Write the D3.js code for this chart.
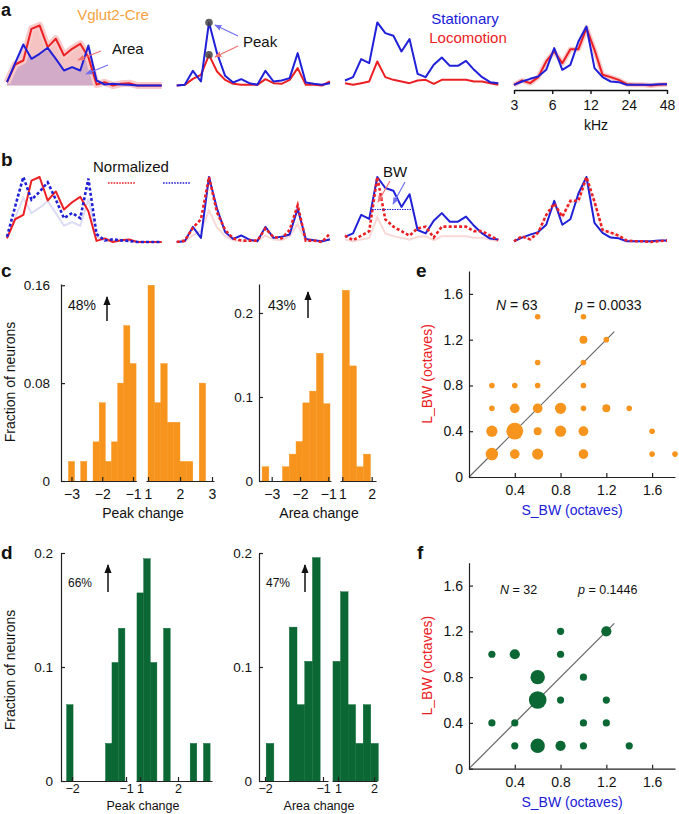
<!DOCTYPE html>
<meta charset="utf-8">
<script src="https://d3js.org/d3.v7.min.js"></script>
<style>
  body { margin: 0; background: #fff; }
  text { font-family: "Liberation Sans", Arial, Helvetica, sans-serif; }
</style>
<div id="my_dataviz"></div>
<script>

// ---------- data ----------
// sound frequencies (kHz), 20 log-spaced tones
const freqs = [3.0, 3.47, 4.02, 4.65, 5.38, 6.22, 7.2, 8.33, 9.64, 11.15,
               12.9, 14.93, 17.28, 19.99, 23.13, 26.76, 30.97, 35.83, 41.46, 48.0];

// example tuning curves (a.u.), stationary vs locomotion
const stat1 = [1.0, 6.7, 12.3, 8.0, 9.5, 11.3, 8.0, 4.5, 5.5, 4.5, 12.0, 1.5, 0.3, 0.5, 0.3, 0.2, 0, 0, 0, 0];
const loco1 = [1.0, 6.3, 7.5, 17.0, 18.0, 11.5, 14.0, 9.0, 11.0, 12.5, 8.5, 0.3, 1.0, 0, 0.5, 0.7, 0, 0, 0, 0];
const stat2 = [0, 0.2, 4.4, 1.2, 18.9, 9.7, 2.9, 0.9, 1.9, 0.7, 0.2, 4.4, 1.2, 1.5, 2.2, 9.7, 0.9, 0.5, 0.2, 0.7];
const loco2 = [0, 0.2, 2.0, 3.2, 9.2, 4.2, 1.7, 0.5, 0.2, 0.2, 0.2, 1.9, 0.7, 0.5, 1.7, 5.2, 0.2, 0.2, 0, 1.2];
const stat3 = [1.5, 2.5, 7.9, 6.7, 18.9, 15.7, 14.9, 10.2, 13.9, 3.5, 2.5, 6.2, 8.4, 5.9, 5.9, 7.4, 4.7, 2.5, 1.0, 0.7];
const loco3 = [0.7, 0.2, 0.7, 1.2, 7.2, 2.5, 1.7, 1.2, 0.7, 1.5, 1.7, 0.5, 1.7, 1.7, 1.7, 1.7, 1.2, 1.2, 0.7, 0.2];
const stat4 = [0.2, 1.2, 2.0, 2.7, 4.7, 11.2, 4.7, 6.2, 13.2, 17.7, 5.2, 2.5, 1.2, 1.0, 0.2, 0.2, 0.2, 0.2, 0.4, 0.4];
const loco4 = [0.2, 1.5, 0.7, 2.5, 7.2, 10.2, 6.7, 10.9, 10.9, 17.2, 10.7, 3.2, 2.5, 1.7, 0.4, 0.2, 0.2, 0, 0.2, 0.4];
const freqTicks = [3, 6, 12, 24, 48];

// histograms: fraction of neurons per bin, negative side and positive side of the broken axis
const cPeakNeg = [0.016, 0, 0.016, 0, 0.032, 0.064, 0.016, 0.032, 0.080, 0.127, 0.096]; // bins of 0.2 from -3.1
const cPeakPos = [0.160, 0.064, 0.096, 0.048, 0.048, 0.016, 0.016, 0, 0.080];          // bins of 0.2 from 1.0
const cAreaNeg = [0.017, 0, 0, 0.017, 0.032, 0.047, 0.093, 0.107, 0.152, 0.092];        // bins of 0.24 from -3.34
const cAreaPos = [0.227, 0.137, 0.017, 0.032];                                          // bins of 0.24 from 1.0
const dPeakNeg = [0.067, 0, 0, 0, 0, 0, 0.033, 0.104, 0.134];                           // bins of 0.12 from -2.1
const dPeakPos = [0.165, 0.195, 0.104, 0, 0.134, 0, 0, 0, 0.033, 0, 0.033];             // bins of 0.175 from 0.92
const dAreaNeg = [0.033, 0, 0, 0.135, 0.067, 0.105, 0.196, 0];                          // bins of 0.133 from -1.98
const dAreaPos = [0.105, 0.166, 0.067, 0.033, 0.067, 0.033];                            // bins of 0.21 from 0.86

// bandwidth scatter: S_BW, L_BW (octaves), number of neurons
const eS = [0.6, 1.0, 1.0, 1.2, 0.6, 1.0, 0.2, 0.4, 0.6, 1.0, 0.2, 0.4, 0.6, 0.8, 1.0, 1.2, 1.4,
            0.2, 0.4, 0.6, 0.8, 1.0, 1.6, 0.2, 0.4, 0.6, 1.0, 1.6, 1.8];
const eL = [1.4, 1.4, 1.2, 1.2, 1.0, 1.0, 0.8, 0.8, 0.8, 0.8, 0.6, 0.6, 0.6, 0.6, 0.6, 0.6, 0.6,
            0.4, 0.4, 0.4, 0.4, 0.4, 0.4, 0.2, 0.2, 0.2, 0.2, 0.2, 0.2];
const eN = [1, 1, 2, 1, 1, 1, 1, 1, 1, 1, 1, 3, 3, 4, 1, 2, 1,
            4, 9, 2, 4, 3, 1, 5, 3, 4, 3, 1, 1];
const fS = [0.8, 1.2, 0.2, 0.4, 0.8, 0.6, 1.0, 0.6, 0.8, 1.2, 0.2, 0.4, 1.0, 1.2, 0.4, 0.6, 0.8, 1.0, 1.4];
const fL = [1.2, 1.2, 1.0, 1.0, 1.0, 0.8, 0.8, 0.6, 0.6, 0.6, 0.4, 0.4, 0.4, 0.4, 0.2, 0.2, 0.2, 0.2, 0.2];
const fN = [1, 2, 1, 2, 1, 4, 1, 6, 1, 1, 1, 1, 1, 1, 1, 4, 2, 1, 1];
const bwTicks = [0.4, 0.8, 1.2, 1.6];

// ---------- drawing ----------
const RED = "#ec2024", BLUE = "#2020d8", ORANGE = "#f7941d", GREEN = "#0b6835";

const svg = d3.select("#my_dataviz")
  .append("svg")
    .attr("width", 679)
    .attr("height", 814);

// arrowheads
const defs = svg.append("defs");
[["arRed", "#f07070"], ["arBlue", "#7070ee"], ["arBlack", "#111"]].forEach(([id, c]) => {
  defs.append("marker").attr("id", id).attr("viewBox", "0 0 10 10")
    .attr("refX", 9).attr("refY", 5).attr("markerWidth", 6).attr("markerHeight", 6)
    .attr("orient", "auto-start-reverse")
    .append("path").attr("d", "M0,1 L10,5 L0,9 z").attr("fill", c);
});

function label(x, y, t, size, opts = {}) {
  const el = svg.append("text").attr("x", x).attr("y", y).text(t)
    .style("font-size", size + "px")
    .attr("fill", opts.fill || "#111")
    .attr("text-anchor", opts.anchor || "start");
  if (opts.bold) el.style("font-weight", "bold");
  if (opts.rotate) el.attr("transform", `rotate(-90,${x},${y})`);
  return el;
}
function arrow(x1, y1, x2, y2, color, marker, w) {
  svg.append("line").attr("x1", x1).attr("y1", y1).attr("x2", x2).attr("y2", y2)
    .attr("stroke", color).attr("stroke-width", w || 1.2).attr("marker-end", `url(#${marker})`);
}

// panel letters
label(1, 16, "a", 18, {bold: true});
label(1, 166, "b", 19, {bold: true});
label(1, 277, "c", 19, {bold: true});
label(1, 559, "d", 19, {bold: true});
label(416, 277, "e", 19, {bold: true});
label(417, 559, "f", 19, {bold: true});

// ----- panel a & b: tuning curves -----
const plotX = [[7, 161.7], [176.7, 330], [345, 498.3], [514, 667]];
const curves = [[stat1, loco1], [stat2, loco2], [stat3, loco3], [stat4, loco4]];
const ya = d3.scaleLinear().domain([0, 20]).range([85.5, 18.8]);

curves.forEach(([s, l], i) => {
  const x = d3.scaleLog().base(2).domain([3, 48]).range(plotX[i]);
  const line = d3.line().x((d, j) => x(freqs[j])).y(d => ya(d));
  const g = svg.append("g");
  if (i === 0) {
    const area = d3.area().x((d, j) => x(freqs[j])).y0(ya(0)).y1(d => ya(d));
    g.append("path").datum(l).attr("d", area).attr("fill", "#f6c3c3");
    g.append("path").datum(s).attr("d", area).attr("fill", "#9b86cc").attr("opacity", 0.4);
  }
  if (i === 0 || i === 3) {
    g.append("path").datum(l).attr("d", line).attr("fill", "none")
      .attr("stroke", "#f8caca").attr("stroke-width", i === 0 ? 7 : 5).attr("stroke-linejoin", "round");
  }
  g.append("path").datum(l).attr("d", line).attr("fill", "none")
    .attr("stroke", RED).attr("stroke-width", 2).attr("stroke-linejoin", "round");
  g.append("path").datum(s).attr("d", line).attr("fill", "none")
    .attr("stroke", BLUE).attr("stroke-width", 2).attr("stroke-linejoin", "round");

  if (i === 1) {
    const k = s.indexOf(d3.max(s));
    g.selectAll("circle.pk").data([s[k], l[k]]).join("circle")
      .attr("cx", x(freqs[k])).attr("cy", d => ya(d)).attr("r", 3.8)
      .attr("fill", "#444").attr("opacity", 0.85);
  }
  if (i === 3) {
    g.append("g").attr("transform", "translate(0,90)")
      .call(d3.axisBottom(x).tickValues(freqTicks).tickSizeInner(4).tickSizeOuter(0)
        .tickPadding(6).tickFormat(d3.format("d")))
      .call(a => a.selectAll("text").style("font-size", "14px").attr("fill", "#111"))
      .call(a => a.selectAll("path,line").attr("stroke", "#111").attr("stroke-width", 1.4));
    label(596, 130, "kHz", 14, {anchor: "middle"});
  }

  // panel b: normalized curves
  const ms = d3.max(s), ml = d3.max(l);
  const yb = d3.scaleLinear().domain([0, Math.max(ms, ml)]).range([242, 177]);
  const lineB = d3.line().x((d, j) => x(freqs[j])).y(d => yb(d));
  const normS = ms < ml;
  const small = normS ? s : l, big = normS ? l : s;
  const scaled = small.map(v => v * d3.max(big) / d3.max(small));
  const gb = svg.append("g");
  gb.append("path").datum(small).attr("d", lineB).attr("fill", "none")
    .attr("stroke", normS ? "#dcdcf6" : "#f9d8d8").attr("stroke-width", 2);
  gb.append("path").datum(big).attr("d", lineB).attr("fill", "none")
    .attr("stroke", normS ? RED : BLUE).attr("stroke-width", 2).attr("stroke-linejoin", "round");
  gb.append("path").datum(scaled).attr("d", lineB).attr("fill", "none")
    .attr("stroke", normS ? BLUE : RED).attr("stroke-width", 2.6)
    .attr("stroke-dasharray", "3,2.2");
  if (i === 2) {
    gb.append("line").attr("x1", 372).attr("x2", 413).attr("y1", yb(d3.max(s) / 2)).attr("y2", yb(d3.max(s) / 2))
      .attr("stroke", BLUE).attr("stroke-width", 1).attr("stroke-dasharray", "1.5,1");
  }
});

// annotations a
label(113, 20, "Vglut2-Cre", 15, {anchor: "middle", fill: "#f6a340"});
label(112, 54, "Area", 15);
arrow(101, 51, 78, 60, "#f07070", "arRed");
arrow(108, 65, 86, 74, "#7070ee", "arBlue");
label(243, 47, "Peak", 15);
arrow(238, 36, 215, 25, "#7070ee", "arBlue");
arrow(238, 46, 215, 57, "#f07070", "arRed");
label(465, 24, "Stationary", 15, {anchor: "middle", fill: BLUE});
label(468, 43, "Locomotion", 15, {anchor: "middle", fill: RED});

// annotations b
label(93, 172, "Normalized", 15);
svg.append("line").attr("x1", 108).attr("x2", 135).attr("y1", 183).attr("y2", 183)
  .attr("stroke", RED).attr("stroke-width", 1.6).attr("stroke-dasharray", "1.6,1.2");
svg.append("line").attr("x1", 163).attr("x2", 190).attr("y1", 183).attr("y2", 183)
  .attr("stroke", BLUE).attr("stroke-width", 1.6).attr("stroke-dasharray", "1.6,1.2");
label(383, 177, "BW", 15);
arrow(390, 181, 378, 202, "#f07070", "arRed");
arrow(405, 182, 393, 204, "#7070ee", "arBlue");

// ----- histograms -----
function histogram(cfg) {
  const g = svg.append("g");
  const y = d3.scaleLinear().domain([0, cfg.yMax]).range([cfg.y0, cfg.yTop]);
  cfg.segs.forEach(seg => {
    const x = d3.scaleLinear().domain(seg.domain).range(seg.range);
    g.append("g").selectAll("rect").data(seg.values).join("rect")
      .attr("x", (d, i) => x(seg.start + i * seg.w))
      .attr("width", (d, i) => x(seg.start + (i + 1) * seg.w) - x(seg.start + i * seg.w))
      .attr("y", d => y(d))
      .attr("height", d => y(0) - y(d))
      .attr("fill", cfg.color).attr("stroke", cfg.color).attr("stroke-width", 0.4);
    const xa = x.copy().domain([x.invert(seg.axis[0]), x.invert(seg.axis[1])]).range(seg.axis);
    g.append("g").attr("transform", `translate(0,${cfg.y0})`)
      .call(d3.axisBottom(xa).tickValues(seg.ticks).tickSizeInner(-4).tickSizeOuter(0)
        .tickPadding(cfg.xpad).tickFormat(d3.format("d")))
      .call(a => a.selectAll("text").style("font-size", cfg.tfs + "px").attr("fill", "#111"))
      .call(a => a.selectAll("path,line").attr("stroke", "#222").attr("stroke-width", 1.2));
  });
  g.append("g").attr("transform", `translate(${cfg.x0},0)`)
    .call(d3.axisLeft(y).tickValues(cfg.yTicks).tickSizeInner(-4).tickSizeOuter(0)
      .tickPadding(cfg.pad).tickFormat(d => d === 0 ? "0" : String(d)))
    .call(a => a.selectAll("text").style("font-size", "13.5px").attr("fill", "#111"))
    .call(a => a.selectAll("path,line").attr("stroke", "#222").attr("stroke-width", 1.2));
  label(cfg.xlab[0], cfg.xlab[1], cfg.xlabel, cfg.tfs, {anchor: "middle"});
  label(cfg.pct[0], cfg.pct[1], cfg.pctText, cfg.pctSize);
  arrow(cfg.arr[0], cfg.arr[2], cfg.arr[0], cfg.arr[1], "#111", "arBlack", 1.5);
}

histogram({
  x0: 61, y0: 481, yTop: 284, yMax: 0.161, yTicks: [0, 0.08, 0.16], pad: 11, xpad: 8, tfs: 14, color: ORANGE,
  segs: [
    {domain: [-3, -1], range: [71.5, 133], start: -3.1, w: 0.2, values: cPeakNeg, axis: [61, 136.3], ticks: [-3, -2, -1]},
    {domain: [1, 3], range: [148, 212], start: 1.0, w: 0.2, values: cPeakPos, axis: [146, 214], ticks: [1, 2, 3]}
  ],
  xlabel: "Peak change", xlab: [143, 518], pctText: "48%", pct: [68, 310], pctSize: 14, arr: [107, 297, 321]
});
histogram({
  x0: 259, y0: 481, yTop: 284, yMax: 0.2345, yTicks: [0, 0.1, 0.2], pad: 6, xpad: 8, tfs: 14, color: ORANGE,
  segs: [
    {domain: [-3, -1], range: [271.7, 328.3], start: -3.34, w: 0.24, values: cAreaNeg, axis: [259, 331], ticks: [-3, -2, -1]},
    {domain: [1, 2], range: [342.3, 371.7], start: 1.0, w: 0.24, values: cAreaPos, axis: [340, 376], ticks: [1, 2]}
  ],
  xlabel: "Area change", xlab: [319, 518], pctText: "43%", pct: [268, 310], pctSize: 14, arr: [308, 292, 318]
});
histogram({
  x0: 61, y0: 781, yTop: 553, yMax: 0.2, yTicks: [0, 0.1, 0.2], pad: 8, xpad: 3, tfs: 12.5, color: GREEN,
  segs: [
    {domain: [-2, -1], range: [72, 126], start: -2.1, w: 0.12, values: dPeakNeg, axis: [61, 127], ticks: [-2, -1]},
    {domain: [1, 2], range: [140, 178], start: 0.92, w: 0.175, values: dPeakPos, axis: [136, 212], ticks: [1, 2]}
  ],
  xlabel: "Peak change", xlab: [143, 810], pctText: "66%", pct: [68, 587], pctSize: 12, arr: [108, 565, 592]
});
histogram({
  x0: 259, y0: 781, yTop: 553, yMax: 0.2, yTicks: [0, 0.1, 0.2], pad: 7, xpad: 3, tfs: 12.5, color: GREEN,
  segs: [
    {domain: [-2, -1], range: [265, 323], start: -1.98, w: 0.133, values: dAreaNeg, axis: [259, 328], ticks: [-2, -1]},
    {domain: [1, 2], range: [338, 374], start: 0.86, w: 0.21, values: dAreaPos, axis: [332, 377], ticks: [1, 2]}
  ],
  xlabel: "Area change", xlab: [319, 810], pctText: "47%", pct: [266, 587], pctSize: 12, arr: [305, 565, 592]
});
label(15, 382, "Fraction of neurons", 14, {anchor: "middle", rotate: true});
label(15, 670, "Fraction of neurons", 14, {anchor: "middle", rotate: true});

// ----- scatter plots -----
function scatter(cfg) {
  const g = svg.append("g");
  const x = d3.scaleLinear().domain([0, 1.8]).range([469, 675]);
  const y = d3.scaleLinear().domain([0, 1.8]).range([cfg.y0, cfg.y0 - 206]);
  const r = d3.scaleSqrt().domain([0, 1]).range([0, cfg.r1]);
  g.append("line").attr("x1", x(0)).attr("y1", y(0)).attr("x2", x(1.27)).attr("y2", y(1.27))
    .attr("stroke", "#666").attr("stroke-width", 1.2);
  g.selectAll("circle").data(cfg.s).join("circle")
    .attr("cx", d => x(d)).attr("cy", (d, i) => y(cfg.l[i])).attr("r", (d, i) => r(cfg.n[i]))
    .attr("fill", cfg.color);
  g.append("g").attr("transform", `translate(0,${cfg.y0})`)
    .call(d3.axisBottom(x).tickValues(bwTicks).tickSizeInner(-4).tickSizeOuter(0).tickPadding(8))
    .call(a => a.selectAll("text").style("font-size", "14px").attr("fill", "#111"))
    .call(a => a.selectAll("path,line").attr("stroke", "#222").attr("stroke-width", 1.2));
  g.append("g").attr("transform", "translate(469,0)")
    .call(d3.axisLeft(y).tickValues([0].concat(bwTicks)).tickSizeInner(-4).tickSizeOuter(0).tickPadding(6)
      .tickFormat(d => d === 0 ? "0" : d3.format(".1f")(d)))
    .call(a => a.selectAll("text").style("font-size", "14px").attr("fill", "#111"))
    .call(a => a.selectAll("path,line").attr("stroke", "#222").attr("stroke-width", 1.2));
  label(572, cfg.y0 + 38, "S_BW (octaves)", 14, {anchor: "middle", fill: BLUE});
  label(432, cfg.y0 - 103, "L_BW (octaves)", 14, {anchor: "middle", fill: RED, rotate: true});
  const tN = label(cfg.nx, cfg.ty, "", cfg.fs);
  tN.append("tspan").style("font-style", "italic").text("N");
  tN.append("tspan").text(" = " + cfg.N);
  const tP = label(cfg.px, cfg.ty, "", cfg.fs);
  tP.append("tspan").style("font-style", "italic").text("p");
  tP.append("tspan").text(" = " + cfg.p);
}
scatter({y0: 477, s: eS, l: eL, n: eN, r1: 2.8, color: ORANGE, N: 63, p: "0.0033",
         nx: 496, px: 575, ty: 310, fs: 14});
scatter({y0: 768.7, s: fS, l: fL, n: fN, r1: 3.6, color: GREEN, N: 32, p: "0.1446",
         nx: 500, px: 578, ty: 594, fs: 12.5});

</script>
